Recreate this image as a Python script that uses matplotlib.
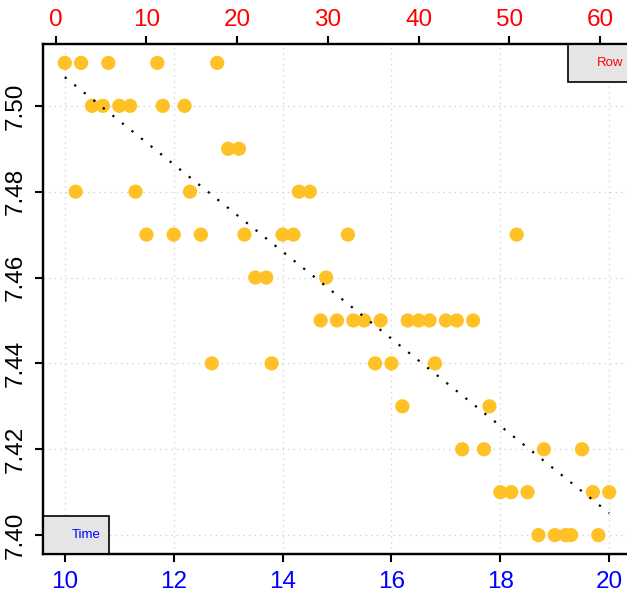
import numpy as np
import matplotlib
matplotlib.use("Agg")
import matplotlib.pyplot as plt
from matplotlib.patches import Rectangle

plt.rcParams['font.family'] = ['Liberation Sans', 'DejaVu Sans']

# Measurement series: time vs. value, one row per observation
time = [10.0, 10.2, 10.3, 10.5, 10.7, 10.8, 11.0, 11.2, 11.3, 11.5,
        11.7, 11.8, 12.0, 12.2, 12.3, 12.5, 12.7, 12.8, 13.0, 13.2,
        13.3, 13.5, 13.7, 13.8, 14.0, 14.2, 14.3, 14.5, 14.7, 14.8,
        15.0, 15.2, 15.3, 15.5, 15.7, 15.8, 16.0, 16.2, 16.3, 16.5,
        16.7, 16.8, 17.0, 17.2, 17.3, 17.5, 17.7, 17.8, 18.0, 18.2,
        18.3, 18.5, 18.7, 18.8, 19.0, 19.2, 19.3, 19.5, 19.7, 19.8, 20.0]
value = [7.51, 7.48, 7.51, 7.50, 7.50, 7.51, 7.50, 7.50, 7.48, 7.47,
         7.51, 7.50, 7.47, 7.50, 7.48, 7.47, 7.44, 7.51, 7.49, 7.49,
         7.47, 7.46, 7.46, 7.44, 7.47, 7.47, 7.48, 7.48, 7.45, 7.46,
         7.45, 7.47, 7.45, 7.45, 7.44, 7.45, 7.44, 7.43, 7.45, 7.45,
         7.45, 7.44, 7.45, 7.45, 7.42, 7.45, 7.42, 7.43, 7.41, 7.41,
         7.47, 7.41, 7.40, 7.42, 7.40, 7.40, 7.40, 7.42, 7.41, 7.40, 7.41]
row = list(range(1, len(time) + 1))

x_ticks = [10, 12, 14, 16, 18, 20]
y_ticks = [7.40, 7.42, 7.44, 7.46, 7.48, 7.50]
row_ticks = [0, 10, 20, 30, 40, 50, 60]

POINT = "#FFC125"
BOX = "#E5E5E5"
FS = 17.5

t = np.asarray(time)
v = np.asarray(value)


def padded(lo, hi, frac=0.04):
    d = (hi - lo) * frac
    return lo - d, hi + d


fig = plt.figure(figsize=(6.27, 5.95), dpi=100)
ax = fig.add_axes([43 / 627, 41 / 595, 588 / 627, 510 / 595])

ax.set_xlim(*padded(t.min(), t.max()))
ax.set_ylim(*padded(v.min(), v.max()))

ax.grid(True, color="#D3D3D3", linestyle=(0, (1, 3)), linewidth=1.0)
ax.set_axisbelow(True)

ax.scatter(t, v, s=105, color=POINT, edgecolors="none", zorder=3)

# least-squares trend line
slope, intercept = np.polyfit(t, v, 1)
xf = np.array([t.min(), t.max()])
ax.plot(xf, intercept + slope * xf, color="black", linestyle=(0, (1, 4.5)),
        linewidth=1.6, zorder=4)

ax.set_xticks(x_ticks)
ax.set_xticklabels([str(x) for x in x_ticks], color="#0000FF", fontsize=FS)
ax.set_yticks(y_ticks)
ax.set_yticklabels([f"{y:.2f}" for y in y_ticks], fontsize=FS,
                   rotation=90, va="center")
ax.tick_params(axis="both", direction="out", length=5.5, width=1.5,
               color="black")
ax.tick_params(axis="x", pad=7)
ax.tick_params(axis="y", pad=6)
for sp in ax.spines.values():
    sp.set_linewidth(1.6)

# secondary axis: row index
ax2 = ax.twiny()
ax2.set_xlim(*padded(min(row), max(row)))
ax2.set_xticks(row_ticks)
ax2.set_xticklabels([str(r) for r in row_ticks], color="#FF0000", fontsize=FS)
ax2.tick_params(axis="x", direction="out", length=5.5, width=1.5, pad=4)
for sp in ax2.spines.values():
    sp.set_linewidth(1.6)

# axis name boxes
ax.add_patch(Rectangle((0, 0), 0.1117, 0.0751, transform=ax.transAxes,
                       facecolor=BOX, edgecolor="black", linewidth=1.2,
                       zorder=5, clip_on=False))
ax.text(0.0986, 0.0373, "Time", transform=ax.transAxes, color="#0000FF",
        fontsize=9.5, ha="right", va="center", zorder=6)
ax.add_patch(Rectangle((0.8923, 0.9255), 0.2, 0.0745, transform=ax.transAxes,
                       facecolor=BOX, edgecolor="black", linewidth=1.2,
                       zorder=5, clip_on=False))
ax.text(0.9417, 0.962, "Row", transform=ax.transAxes, color="#FF0000",
        fontsize=9.5, ha="left", va="center", zorder=6)

fig.savefig("out.png", dpi=100)
